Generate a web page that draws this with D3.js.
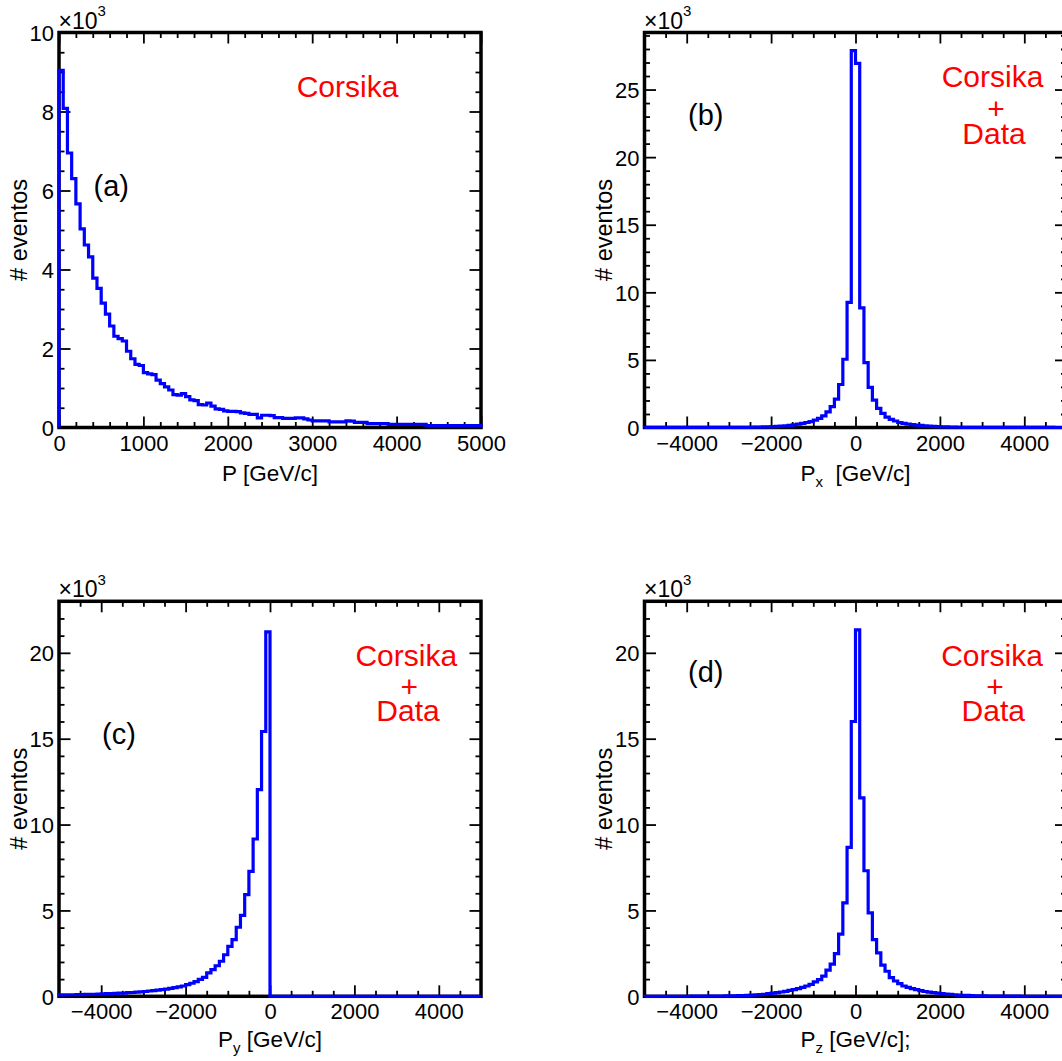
<!DOCTYPE html>
<html>
<head>
<meta charset="utf-8">
<script src="https://cdn.jsdelivr.net/npm/d3@7"></script>
<style>
  html, body { margin: 0; padding: 0; background: #fff; overflow: hidden; }
</style>
</head>
<body>
<svg id="canvas" width="1062" height="1061"></svg>
<script>
// ---- Histogram contents (in units of 10^3 events) ----

// |P|: 100 bins of 50 GeV/c from 0 to 5000
const binsP = [
  9.04, 8.08, 6.95, 6.30, 5.66, 5.03, 4.62, 4.32, 3.78, 3.52,
  3.15, 2.87, 2.57, 2.31, 2.25, 2.19, 1.93, 1.74, 1.60, 1.57,
  1.39, 1.36, 1.34, 1.20, 1.11, 1.03, 0.95, 0.83, 0.82, 0.86,
  0.78, 0.70, 0.68, 0.58, 0.57, 0.62, 0.54, 0.47, 0.46, 0.42,
  0.41, 0.41, 0.40, 0.37, 0.36, 0.33, 0.33, 0.245, 0.31, 0.31,
  0.30, 0.25, 0.25, 0.23, 0.23, 0.23, 0.245, 0.245, 0.22, 0.19,
  0.17, 0.17, 0.17, 0.17, 0.14, 0.14, 0.14, 0.14, 0.17, 0.16,
  0.13, 0.13, 0.13, 0.10, 0.10, 0.10, 0.10, 0.10, 0.08, 0.08,
  0.08, 0.08, 0.08, 0.08, 0.08, 0.08, 0.08, 0.05, 0.05, 0.05,
  0.05, 0.05, 0.05, 0.05, 0.05, 0.05, 0.05, 0.05, 0.05, 0.05
];

// Px: 100 bins of 100 GeV/c from -5000 to 5000
const binsPx = [
  0.002, 0.002, 0.002, 0.002, 0.003, 0.003, 0.003, 0.003, 0.003, 0.004,
  0.004, 0.004, 0.004, 0.005, 0.005, 0.005, 0.006, 0.006, 0.007, 0.007,
  0.008, 0.009, 0.011, 0.013, 0.016, 0.02, 0.025, 0.03, 0.04, 0.05,
  0.065, 0.08, 0.10, 0.13, 0.16, 0.20, 0.25, 0.31, 0.37, 0.44,
  0.55, 0.68, 0.86, 1.16, 1.55, 2.10, 3.18, 5.05, 9.25, 27.88,
  26.93, 8.85, 4.80, 2.97, 2.03, 1.42, 1.05, 0.77, 0.60, 0.48,
  0.37, 0.30, 0.25, 0.21, 0.18, 0.15, 0.12, 0.10, 0.08, 0.065,
  0.05, 0.04, 0.032, 0.025, 0.02, 0.016, 0.013, 0.01, 0.008, 0.006,
  0.005, 0.005, 0.004, 0.004, 0.004, 0.003, 0.003, 0.003, 0.003, 0.002,
  0.002, 0.002, 0.002, 0.002, 0.002, 0.002, 0.002, 0.001, 0.001, 0.001
];

// Py: 100 bins of 100 GeV/c from -5000 to 5000
const binsPy = [
  0.08, 0.08, 0.09, 0.09, 0.10, 0.10, 0.11, 0.11, 0.12, 0.13,
  0.14, 0.15, 0.16, 0.17, 0.18, 0.19, 0.21, 0.22, 0.24, 0.26,
  0.28, 0.31, 0.33, 0.36, 0.39, 0.42, 0.46, 0.50, 0.55, 0.60,
  0.68, 0.76, 0.86, 0.98, 1.10, 1.36, 1.55, 1.78, 2.04, 2.42,
  2.91, 3.30, 4.02, 4.71, 5.92, 7.27, 9.16, 12.03, 15.42, 21.22,
  0, 0, 0, 0, 0, 0, 0, 0, 0, 0,
  0, 0, 0, 0, 0, 0, 0, 0, 0, 0,
  0, 0, 0, 0, 0, 0, 0, 0, 0, 0,
  0, 0, 0, 0, 0, 0, 0, 0, 0, 0,
  0, 0, 0, 0, 0, 0, 0, 0, 0, 0
];

// Pz: 100 bins of 100 GeV/c from -5000 to 5000
const binsPz = [
  0.001, 0.001, 0.001, 0.002, 0.002, 0.002, 0.002, 0.003, 0.003, 0.003,
  0.004, 0.005, 0.006, 0.007, 0.008, 0.01, 0.012, 0.014, 0.017, 0.02,
  0.025, 0.03, 0.037, 0.045, 0.055, 0.07, 0.08, 0.10, 0.12, 0.15,
  0.18, 0.21, 0.25, 0.29, 0.34, 0.39, 0.45, 0.52, 0.60, 0.70,
  0.84, 0.97, 1.17, 1.52, 1.87, 2.49, 3.62, 5.44, 8.67, 16.0,
  21.34, 11.55, 7.31, 4.86, 3.30, 2.53, 1.81, 1.46, 1.09, 0.89,
  0.74, 0.60, 0.52, 0.45, 0.39, 0.33, 0.28, 0.24, 0.21, 0.18,
  0.16, 0.13, 0.11, 0.09, 0.07, 0.06, 0.05, 0.04, 0.033, 0.027,
  0.022, 0.018, 0.015, 0.012, 0.01, 0.008, 0.007, 0.006, 0.005, 0.004,
  0.003, 0.003, 0.003, 0.002, 0.002, 0.002, 0.002, 0.001, 0.001, 0.001
];

// ---- Axis ranges and tick labels ----
const xRangeP = [0, 5000];
const xRangeComp = [-5000, 5000];
const xTicksP = [0, 1000, 2000, 3000, 4000, 5000];
const xTicksComp = [-4000, -2000, 0, 2000, 4000];
const yMaxP = 10, yMaxPx = 29.22, yMaxPy = 23.0, yMaxPz = 23.0;
const yTicksP = [0, 2, 4, 6, 8, 10];
const yTicksPx = [0, 5, 10, 15, 20, 25];
const yTicksPyz = [0, 5, 10, 15, 20];

// ---- Text ----
const yTitle = "# eventos";
const expLabel = ["\u00d710", "3"];
const panelTags = ["(a)", "(b)", "(c)", "(d)"];
const xTitles = [
  { main: "P", sub: "", rest: " [GeV/c]" },
  { main: "P", sub: "x", rest: "\u00a0 [GeV/c]" },
  { main: "P", sub: "y", rest: " [GeV/c]" },
  { main: "P", sub: "z", rest: " [GeV/c];" }
];
const sourceSingle = ["Corsika"];
const sourceCombined = ["Corsika", "+", "Data"];

// ---- Drawing ----
const FONT = "'Liberation Sans', Arial, Helvetica, sans-serif";
const BLUE = "#0000ff", RED = "#ff0000";
const FW = 422, FH = 395;            // frame size in px

// frame origins on the canvas, and label anchors in frame-local px
const panels = [
  { origin: [59, 32.5],     bins: binsP,  dom: xRangeP,    yMax: yMaxP,  xt: xTicksP,    xm: 200, yt: yTicksP,   ym: 0.5,
    tag: [52.3, 163], src: sourceSingle, srcAt: [[288.5, 64.5]], titleDy: 53 },
  { origin: [644.5, 32.5],  bins: binsPx, dom: xRangeComp, yMax: yMaxPx, xt: xTicksComp, xm: 500, yt: yTicksPx,  ym: 1,
    tag: [61.3, 92.1], src: sourceCombined, srcAt: [[348, 54.8], [351.5, 86.3], [349.5, 111.8]], titleDy: 53 },
  { origin: [59, 601.3],    bins: binsPy, dom: xRangeComp, yMax: yMaxPy, xt: xTicksComp, xm: 500, yt: yTicksPyz, ym: 1,
    tag: [60, 142.6], src: sourceCombined, srcAt: [[347.3, 64.7], [350.3, 96], [349, 119.7]], titleDy: 50.7 },
  { origin: [644.5, 601.3], bins: binsPz, dom: xRangeComp, yMax: yMaxPz, xt: xTicksComp, xm: 500, yt: yTicksPyz, ym: 1,
    tag: [61.2, 80.9], src: sourceCombined, srcAt: [[347.5, 64.7], [350.5, 96], [348.8, 119.7]], titleDy: 50.7 }
];

const svg = d3.select("#canvas");
const fmt = d3.format("d");

panels.forEach((p, idx) => {
  const g = svg.append("g")
    .attr("transform", `translate(${p.origin[0]},${p.origin[1]})`);

  const x = d3.scaleLinear().domain(p.dom).range([0, FW]);
  const y = d3.scaleLinear().domain([0, p.yMax]).range([FH, 0]);

  const xMinor = d3.range(p.dom[0], p.dom[1] + 1e-9, p.xm).filter(v => !p.xt.includes(v) && v !== p.dom[0] && v !== p.dom[1]);
  const yMinor = d3.range(0, p.yMax + 1e-9, p.ym).filter(v => !p.yt.some(t => Math.abs(t - v) < 1e-9));

  const styleAxis = sel => {
    sel.select(".domain").remove();
    sel.selectAll(".tick line").attr("stroke", "#000").attr("stroke-width", 1.8);
    sel.selectAll(".tick text")
      .attr("fill", "#000")
      .style("font-family", FONT)
      .style("font-size", "22px");
    sel.attr("font-family", null).attr("font-size", null);
  };

  // major + minor ticks on all four sides, pointing inwards
  g.append("g").attr("transform", `translate(0,${FH})`)
    .call(d3.axisBottom(x).tickValues(p.xt).tickSize(-11).tickPadding(7.5).tickFormat(fmt))
    .call(styleAxis);
  g.append("g").attr("transform", `translate(0,${FH})`)
    .call(d3.axisBottom(x).tickValues(xMinor).tickSize(-5.5).tickFormat(""))
    .call(styleAxis);
  g.append("g")
    .call(d3.axisTop(x).tickValues(p.xt).tickSize(-11).tickFormat(""))
    .call(styleAxis);
  g.append("g")
    .call(d3.axisTop(x).tickValues(xMinor).tickSize(-5.5).tickFormat(""))
    .call(styleAxis);

  g.append("g")
    .call(d3.axisLeft(y).tickValues(p.yt).tickSize(-11.5).tickPadding(5).tickFormat(fmt))
    .call(styleAxis)
    .call(s => s.selectAll(".tick text").attr("dy", "0.36em"));
  g.append("g")
    .call(d3.axisLeft(y).tickValues(yMinor).tickSize(-5.5).tickFormat(""))
    .call(styleAxis);
  g.append("g").attr("transform", `translate(${FW},0)`)
    .call(d3.axisRight(y).tickValues(p.yt).tickSize(-11.5).tickFormat(""))
    .call(styleAxis);
  g.append("g").attr("transform", `translate(${FW},0)`)
    .call(d3.axisRight(y).tickValues(yMinor).tickSize(-5.5).tickFormat(""))
    .call(styleAxis);

  // frame
  g.append("rect")
    .attr("x", 0).attr("y", 0).attr("width", FW).attr("height", FH)
    .attr("fill", "none").attr("stroke", "#000").attr("stroke-width", 3.5);

  // histogram outline
  const w = (p.dom[1] - p.dom[0]) / p.bins.length;
  const pts = [[p.dom[0], 0]]
    .concat(p.bins.map((v, i) => [p.dom[0] + i * w, v]))
    .concat([[p.dom[1], 0]]);
  const line = d3.line()
    .x(d => x(d[0]))
    .y(d => y(d[1]))
    .curve(d3.curveStepAfter);
  g.append("path")
    .attr("d", line(pts))
    .attr("fill", "none")
    .attr("stroke", BLUE)
    .attr("stroke-width", 3.2)
    .attr("stroke-linejoin", "miter");

  // x10^3 exponent
  const ex = g.append("text")
    .attr("x", -0.5).attr("y", -4)
    .style("font-family", FONT).style("font-size", "23px").attr("fill", "#000");
  ex.append("tspan").text(expLabel[0]);
  ex.append("tspan").attr("dy", -12.5).style("font-size", "15px").text(expLabel[1]);

  // y title
  g.append("text")
    .attr("transform", `translate(${-32.5},${FH / 2}) rotate(-90)`)
    .attr("text-anchor", "middle")
    .style("font-family", FONT).style("font-size", "23.5px").attr("fill", "#000")
    .text(yTitle);

  // x title
  const xt = xTitles[idx];
  const tt = g.append("text")
    .attr("x", FW / 2).attr("y", FH + p.titleDy)
    .attr("text-anchor", "middle")
    .style("font-family", FONT).style("font-size", "22.5px").attr("fill", "#000");
  tt.append("tspan").text(xt.main);
  if (xt.sub) {
    tt.append("tspan").attr("dy", 6).style("font-size", "15px").text(xt.sub);
    tt.append("tspan").attr("dy", -6).text(xt.rest);
  } else {
    tt.append("tspan").text(xt.rest);
  }

  // panel tag
  g.append("text")
    .attr("x", p.tag[0]).attr("y", p.tag[1])
    .attr("text-anchor", "middle")
    .style("font-family", FONT).style("font-size", "29px").attr("fill", "#000")
    .text(panelTags[idx]);

  // sample label
  p.src.forEach((s, k) => {
    g.append("text")
      .attr("x", p.srcAt[k][0]).attr("y", p.srcAt[k][1])
      .attr("text-anchor", "middle")
      .style("font-family", FONT).style("font-size", "30px").attr("fill", RED)
      .text(s);
  });
});
</script>
</body>
</html>
